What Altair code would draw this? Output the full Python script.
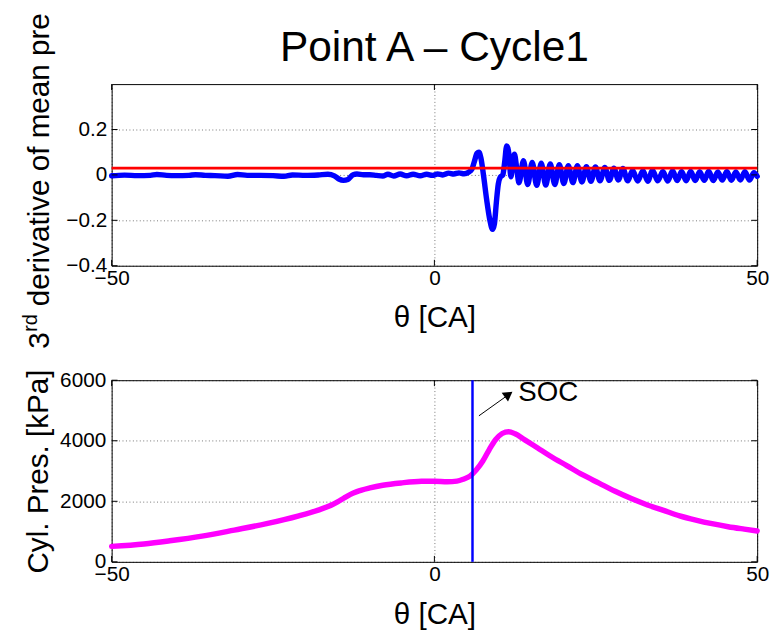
import altair as alt
import pandas as pd

# ---------------- data ----------------
# top panel: 3rd derivative of mean pressure vs crank angle
theta_d = [-50, -48, -46, -44, -43, -41.5, -40, -38, -37, -35.5, -34, -32, -30.5, -29,
           -27, -25, -23.3, -22, -20, -18, -16.5, -15.5, -14.8, -14.1, -13.4, -12.6, -12,
           -11, -10, -9, -8, -7.2, -6.3, -5.3, -4.3, -3.3, -2.2, -1.2, -0.3, 0.5, 1.3, 2.2,
           3.0, 3.8, 4.6, 5.3, 5.8, 6.2, 6.6, 6.9, 7.2, 7.6, 8.1, 8.6, 9.0, 9.3, 9.6, 9.9,
           10.2, 10.6, 10.9, 11.2, 11.55, 11.85, 12.15, 12.4, 12.75, 13.1, 13.8, 14.45,
           15.15, 15.85, 16.55, 17.25, 17.95, 18.65, 19.35, 20.05, 20.75, 21.45, 22.15,
           22.85, 23.55, 24.25, 24.95, 25.65, 26.4, 27.1, 27.8, 28.5, 29.2, 29.95, 30.7,
           31.5, 32.3, 33.05, 33.8, 34.6, 35.4, 36.15, 36.9, 37.6, 38.3, 39.0, 39.7, 40.4,
           41.1, 41.8, 42.5, 43.2, 43.9, 44.6, 45.3, 46.0, 46.7, 47.4, 48.1, 48.8, 49.5, 50.0]
deriv3 = [-0.004, -0.001, -0.003, -0.002, 0.002, -0.002, -0.003, -0.002, 0.001, -0.002,
          -0.003, -0.006, 0.002, -0.002, -0.002, -0.003, -0.006, 0.000, -0.002, 0.000,
          0.003, -0.004, -0.018, -0.024, -0.020, 0.001, 0.004, 0.001, 0.001, -0.002,
          -0.005, 0.003, -0.005, 0.004, -0.004, 0.003, -0.004, 0.003, -0.002, 0.004,
          0.000, 0.008, 0.004, 0.009, 0.005, 0.012, 0.025, 0.060, 0.095, 0.100, 0.075,
          0.000, -0.110, -0.200, -0.240, -0.215, -0.120, -0.040, -0.010, 0.000, 0.060,
          0.128, 0.090, -0.008, 0.050, 0.091, 0.030, -0.035, 0.063, -0.042, 0.055,
          -0.046, 0.051, -0.045, 0.048, -0.042, 0.045, -0.038, 0.041, -0.034, 0.040,
          -0.031, 0.036, -0.028, 0.035, -0.026, 0.033, -0.024, 0.030, -0.022, 0.028,
          -0.026, 0.020, -0.027, 0.018, -0.028, 0.020, -0.026, 0.015, -0.027, 0.018,
          -0.025, 0.015, -0.026, 0.016, -0.025, 0.014, -0.024, 0.016, -0.025, 0.013,
          -0.023, 0.015, -0.024, 0.013, -0.022, 0.014, -0.023, 0.010, -0.006]
threshold = [0.03]

# bottom panel: cylinder pressure vs crank angle
theta_p = [-50, -45, -41, -36, -31, -26, -21, -18, -16, -15, -14, -13, -12, -10, -8, -5,
           -2, 0, 2, 3.5, 4.5, 5.5, 6.5, 7.5, 8.5, 9.5, 10.5, 11.5, 12.5, 14, 16, 18,
           20.5, 23, 25.5, 28, 30.5, 33, 35.5, 38, 40.5, 43, 45.5, 48, 50]
pressure = [510, 590, 695, 850, 1050, 1260, 1520, 1710, 1870, 1980, 2110, 2230, 2320,
            2440, 2530, 2610, 2660, 2665, 2645, 2665, 2730, 2830, 3040, 3330, 3710, 4040,
            4240, 4300, 4230, 4030, 3760, 3490, 3180, 2870, 2600, 2330, 2090, 1880, 1700,
            1520, 1380, 1260, 1160, 1080, 1020]
soc_theta = [5.9]

# SOC annotation
soc_label = ["SOC"]
soc_label_x = [13.0]
soc_label_y = [5300]
arrow_x = [6.9]
arrow_y = [4825]
arrow_x2 = [11.2]
arrow_y2 = [5480]
arrow_head_x = [11.5]
arrow_head_y = [5530]

# axes ticks and texts
x_ticks = [-50, 0, 50]
y1_ticks = [-0.4, -0.2, 0, 0.2]
y2_ticks = [0, 2000, 4000, 6000]
title_text = ["Point A \u2013 Cycle1"]
ylabel_top_parts = ["3", "rd", "derivative of mean pressure"]
ylabel_bottom = "Cyl. Pres. [kPa]"
xlabel = "\u03b8 [CA]"

# ---------------- layout ----------------
W, H = 654, 184
FONT = "Liberation Sans"
GRID = dict(grid=True, gridDash=[1, 2.5], gridColor="#000000", gridOpacity=0.55,
            gridWidth=1, domain=False, ticks=False)

xs = alt.Scale(domain=[-50, 50], nice=False, zero=False)


def x_axis():
    return alt.Axis(values=x_ticks, format="~g", labelFlush=False, labelPadding=2,
                    title=xlabel, titleFontSize=30, titleFontWeight="normal",
                    titleY=62, titleBaseline="alphabetic", **GRID)


def inward_ticks(xt, yt, yscale):
    dx = pd.DataFrame({"theta": xt})
    dy = pd.DataFrame({"yv": yt})
    base = dict(color="black", strokeWidth=1)
    return [
        alt.Chart(dy).mark_rule(**base).encode(y=alt.Y("yv:Q", scale=yscale),
                                               x=alt.value(0), x2=alt.value(6)),
        alt.Chart(dy).mark_rule(**base).encode(y=alt.Y("yv:Q", scale=yscale),
                                               x=alt.value(W - 6), x2=alt.value(W)),
        alt.Chart(dx).mark_rule(**base).encode(x=alt.X("theta:Q", scale=xs),
                                               y=alt.value(H - 6), y2=alt.value(H)),
        alt.Chart(dx).mark_rule(**base).encode(x=alt.X("theta:Q", scale=xs),
                                               y=alt.value(0), y2=alt.value(6)),
    ]


# ---------------- top panel ----------------
ys1 = alt.Scale(domain=[-0.4, 0.4], nice=False, zero=False)
df_d = pd.DataFrame({"theta": theta_d, "yv": deriv3})
one = pd.DataFrame({"t": title_text})

blue = alt.Chart(df_d).mark_line(color="#0000ff", strokeWidth=5.5, interpolate="monotone",
                                 strokeCap="round", strokeJoin="round").encode(
    x=alt.X("theta:Q", scale=xs, axis=x_axis()),
    y=alt.Y("yv:Q", scale=ys1,
            axis=alt.Axis(values=y1_ticks, format="~g", title=None, labelPadding=5, **GRID)),
)
red = alt.Chart(pd.DataFrame({"yv": threshold})).mark_rule(
    color="#ff0000", strokeWidth=3).encode(y=alt.Y("yv:Q", scale=ys1))

title_mark = alt.Chart(one).mark_text(fontSize=43, font=FONT, align="center",
                                      baseline="alphabetic", color="black").encode(
    text="t:N", x=alt.value(W / 2), y=alt.value(-23))

yl3 = alt.Chart(one).mark_text(text=ylabel_top_parts[0], fontSize=30, font=FONT, angle=270,
                               align="left", baseline="alphabetic", color="black").encode(
    x=alt.value(-63), y=alt.value(268))
ylrd = alt.Chart(one).mark_text(text=ylabel_top_parts[1], fontSize=20, font=FONT, angle=270,
                                align="left", baseline="alphabetic", color="black").encode(
    x=alt.value(-75.5), y=alt.value(251))
ylrest = alt.Chart(one).mark_text(text=ylabel_top_parts[2], fontSize=30, font=FONT, angle=270,
                                  align="left", baseline="alphabetic", color="black",
                                  limit=300, ellipsis="\u200b").encode(
    x=alt.value(-63), y=alt.value(225))

top = alt.layer(blue, red, *inward_ticks(x_ticks, y1_ticks, ys1),
                title_mark, yl3, ylrd, ylrest).properties(width=W, height=H)

# ---------------- bottom panel ----------------
ys2 = alt.Scale(domain=[0, 6000], nice=False, zero=False)
df_p = pd.DataFrame({"theta": theta_p, "yv": pressure})

magenta = alt.Chart(df_p).mark_line(color="#ff00ff", strokeWidth=5.5, interpolate="monotone",
                                    strokeCap="round", strokeJoin="round").encode(
    x=alt.X("theta:Q", scale=xs, axis=x_axis()),
    y=alt.Y("yv:Q", scale=ys2,
            axis=alt.Axis(values=y2_ticks, format="d", title=ylabel_bottom, titleFontSize=30,
                          titleFontWeight="normal", titleX=-65, titleBaseline="alphabetic",
                          labelPadding=6, **GRID)),
)
soc = alt.Chart(pd.DataFrame({"theta": soc_theta})).mark_rule(
    color="#0000ff", strokeWidth=2.5).encode(x=alt.X("theta:Q", scale=xs))

df_arrow = pd.DataFrame({"theta": arrow_x, "yv": arrow_y, "x2": arrow_x2, "y2": arrow_y2})
shaft = alt.Chart(df_arrow).mark_rule(color="black", strokeWidth=1).encode(
    x=alt.X("theta:Q", scale=xs), y=alt.Y("yv:Q", scale=ys2),
    x2="x2:Q", y2="y2:Q")
head = alt.Chart(pd.DataFrame({"theta": arrow_head_x, "yv": arrow_head_y})).mark_point(
    shape="triangle-up", filled=True, color="black", opacity=1, size=120, angle=54).encode(
    x=alt.X("theta:Q", scale=xs), y=alt.Y("yv:Q", scale=ys2))
soc_text = alt.Chart(pd.DataFrame({"theta": soc_label_x, "yv": soc_label_y,
                                   "t": soc_label})).mark_text(
    fontSize=28, font=FONT, align="left", baseline="alphabetic", color="black").encode(
    x=alt.X("theta:Q", scale=xs), y=alt.Y("yv:Q", scale=ys2), text="t:N")

bottom = alt.layer(magenta, soc, *inward_ticks(x_ticks, y2_ticks, ys2),
                   shaft, head, soc_text).properties(width=W, height=H)

chart = alt.vconcat(top, bottom, spacing=116, bounds="flush",
                    padding={"left": 13, "top": 0, "right": 0, "bottom": 0}).configure(
    font=FONT, background="white").configure_view(
    stroke="black", strokeWidth=1).configure_axis(
    labelFont=FONT, titleFont=FONT, labelFontSize=21, labelColor="black",
    titleColor="black")

chart.save("out.html", embed_options={"renderer": "svg", "actions": False})
